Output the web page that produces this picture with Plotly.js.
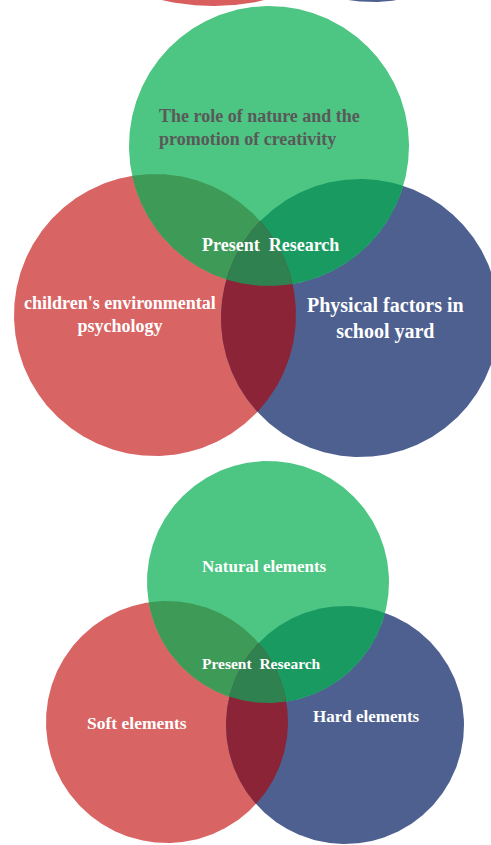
<!DOCTYPE html>
<html>
<head>
<meta charset="utf-8">
<script src="https://cdn.plot.ly/plotly-3.0.1.min.js"></script>
<style>html,body{margin:0;padding:0;background:#fff;}#chart{width:491px;height:845px;}</style>
</head>
<body>
<div id="chart"></div>
<script>
// ---- Venn sets (circle centres / radii in picture units) ----
var setNames   = ["prevRed", "prevBlue", "env", "physical", "nature", "soft", "hard", "natural"];
var centerX    = [213, 372, 155, 360, 269, 167, 345, 268];
var centerY    = [-224, -155, 315, 318, 146, 722, 725, 582];
var radius     = [230, 157, 141, 139, 140, 121, 119, 121];
var setColors  = ["#d95f5f", "#4e6090", "#d96464", "#4e6090", "#4dc583", "#d96464", "#4e6090", "#4dc583"];

// overlap regions: indices of sets and fill colours
var overlapSets   = [[2, 4], [3, 4], [2, 3], [2, 3, 4], [5, 7], [6, 7], [5, 6], [5, 6, 7]];
var overlapColors = ["#3e9a57", "#189a60", "#8b2436", "#2f8250", "#3e9a57", "#189a60", "#8b2436", "#2f8250"];

// labels
var labelText  = ["The role of nature and the<br>promotion of creativity", "Present\u00a0\u00a0Research",
                  "children's environmental<br>psychology", "Physical factors in<br>school yard",
                  "Natural elements", "Present\u00a0\u00a0Research", "Soft elements", "Hard elements"];
var labelX     = [157, 270, 120, 385, 264, 261, 137, 366];
var labelY     = [127, 245, 314, 318, 566, 663, 723, 716];
var labelColor = ["#595959", "#ffffff", "#ffffff", "#ffffff", "#ffffff", "#ffffff", "#ffffff", "#ffffff"];
var labelSize  = [18, 18, 18, 20, 17, 15.5, 17.5, 17];
var labelAlign = ["left", "center", "center", "center", "center", "center", "center", "center"];

var N = 720;
function circlePts(i) {
  var pts = [];
  for (var k = 0; k < N; k++) {
    var a = 2 * Math.PI * k / N;
    pts.push([centerX[i] + radius[i] * Math.cos(a), centerY[i] + radius[i] * Math.sin(a)]);
  }
  return pts;
}
function inside(p, i) {
  var dx = p[0] - centerX[i], dy = p[1] - centerY[i];
  return dx * dx + dy * dy <= radius[i] * radius[i] + 1e-6;
}
function intersection(ids) {
  var pts = [];
  ids.forEach(function (i) {
    circlePts(i).forEach(function (p) {
      var ok = ids.every(function (j) { return j === i || inside(p, j); });
      if (ok) pts.push(p);
    });
  });
  var mx = 0, my = 0;
  pts.forEach(function (p) { mx += p[0]; my += p[1]; });
  mx /= pts.length; my /= pts.length;
  pts.sort(function (a, b) { return Math.atan2(a[1] - my, a[0] - mx) - Math.atan2(b[1] - my, b[0] - mx); });
  return pts;
}
function polyTrace(pts, color) {
  var xs = pts.map(function (p) { return p[0]; });
  var ys = pts.map(function (p) { return p[1]; });
  xs.push(xs[0]); ys.push(ys[0]);
  return {type: "scatter", mode: "lines", x: xs, y: ys, fill: "toself", fillcolor: color,
          line: {width: 0, color: color}, hoverinfo: "skip", showlegend: false};
}

var traces = [];
var order = [0, 1, 2, 3, 4, 5, 6, 7];
order.forEach(function (i) { traces.push(polyTrace(circlePts(i), setColors[i])); });
overlapSets.forEach(function (ids, k) { traces.push(polyTrace(intersection(ids), overlapColors[k])); });

var annotations = labelText.map(function (t, i) {
  return {x: labelX[i], y: labelY[i], xref: "x", yref: "y", text: "<b>" + t + "</b>", showarrow: false,
          xanchor: labelAlign[i] === "left" ? "left" : "center", align: labelAlign[i],
          font: {family: "Liberation Serif, Times New Roman, serif", size: labelSize[i], color: labelColor[i]}};
});

var layout = {
  width: 491, height: 845,
  margin: {l: 0, r: 0, t: 0, b: 0},
  paper_bgcolor: "#ffffff", plot_bgcolor: "#ffffff",
  xaxis: {range: [0, 491], visible: false, fixedrange: true},
  yaxis: {range: [845, 0], visible: false, fixedrange: true},
  showlegend: false,
  annotations: annotations
};
Plotly.newPlot("chart", traces, layout, {staticPlot: true, displayModeBar: false});
</script>
</body>
</html>
